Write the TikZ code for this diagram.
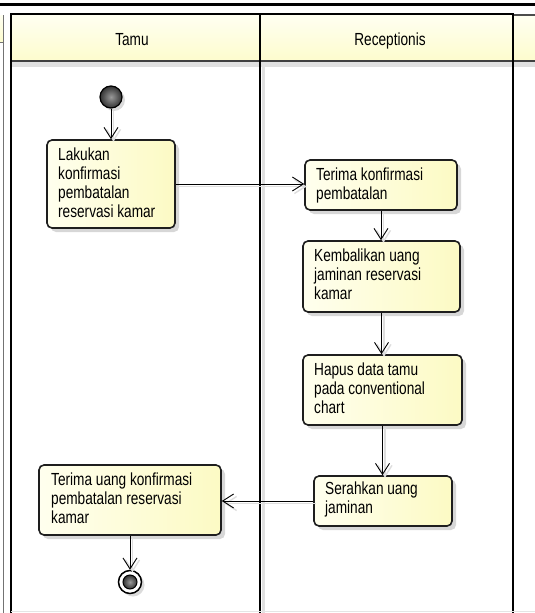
\documentclass[tikz,border=0pt]{standalone}
\usepackage{fontspec}
\setmainfont[FakeStretch=0.78]{Liberation Sans}
\usetikzlibrary{arrows.meta,shadows}
\definecolor{boxL}{RGB}{255,255,238}
\definecolor{boxR}{RGB}{252,250,196}
\definecolor{hdrT}{RGB}{255,255,242}
\definecolor{hdrB}{RGB}{253,252,205}
\definecolor{edge}{RGB}{30,30,30}
\tikzset{
  act/.style={draw=edge, line width=1.6pt, rounded corners=5pt,
    left color=boxL, right color=boxR, inner sep=0pt,
    drop shadow={shadow xshift=4pt, shadow yshift=-4pt, fill=black!22, opacity=.7}},
  txt/.style={anchor=north west, inner sep=0pt, align=left,
    font=\fontsize{17.5}{19}\selectfont, execute at begin node=\strut},
  hdr/.style={anchor=base, inner sep=0pt, font=\fontsize{17.5}{19}\selectfont},
  conn/.style={draw=black, line width=0.9pt,
    -{Straight Barb[length=11pt,width=14pt]},
    preaction={draw=black!13, line width=1.4pt,
      transform canvas={xshift=2.5pt,yshift=-2.5pt}}},
}
\begin{document}
\begin{tikzpicture}[x=1pt,y=-1pt]
\useasboundingbox (0,0) rectangle (535,613);
\fill[white] (0,0) rectangle (535,613);
% top rule
\draw[line width=3pt] (0,4) -- (535,4);
% header band
\shade[top color=hdrT, bottom color=hdrB] (11,14) rectangle (535,61);
\shade[top color=hdrT, bottom color=hdrB] (0,15) rectangle (3,42);
\fill[black!12] (11,62) rectangle (535,67);
\draw[black!75, line width=2pt] (11,61) -- (535,61);
\draw[black!70, line width=1.5pt] (513,15) -- (535,15);
% left edge
\draw[black!55, line width=1pt] (3,15) -- (3,613);
\draw[black!55, line width=1pt] (0,42) -- (3,42);
% lane divider shadow
\fill[black!12] (262,62) rectangle (265,613);
% lane outline
\draw[line width=2pt] (11,613) -- (11,14) -- (513,14) -- (513,613);
\draw[line width=2pt] (260,14) -- (260,613);
\draw[black!10, line width=1pt] (11,611) -- (535,611);
% headers
\node[hdr] (h1) at (132,45) {Tamu};
\node[hdr] (h2) at (390,45) {Receptionis};
% start
\node[circle, draw=black, line width=1.2pt, minimum size=22pt, inner sep=0pt,
  inner color=black!40, outer color=black!80,
  drop shadow={shadow xshift=3pt, shadow yshift=-3pt, fill=black!20, opacity=.7}] (start) at (111,97) {};
% activities
\node[act, minimum width=128pt, minimum height=88pt] (n1) at (111,184) {};
\node[txt] (t1) at (58,148) {Lakukan\\konfirmasi\\pembatalan\\reservasi kamar};
\node[act, minimum width=152pt, minimum height=50pt] (n2) at (381,185) {};
\node[txt] (t2) at (316,168) {Terima konfirmasi\\pembatalan};
\node[act, minimum width=157pt, minimum height=71pt] (n3) at (381.5,276.5) {};
\node[txt] (t3) at (314,249) {Kembalikan uang\\jaminan reservasi\\kamar};
\node[act, minimum width=159pt, minimum height=70pt] (n4) at (382.5,390) {};
\node[txt] (t4) at (314,363) {Hapus data tamu\\pada conventional\\chart};
\node[act, minimum width=138pt, minimum height=50pt] (n5) at (383,501) {};
\node[txt] (t5) at (325,482) {Serahkan uang\\jaminan};
\node[act, minimum width=182pt, minimum height=70pt] (n6) at (130,500) {};
\node[txt] (t6) at (51,473) {Terima uang konfirmasi\\pembatalan reservasi\\kamar};
% end
\node[circle, draw=black, line width=1.5pt, fill=white, minimum size=23pt, inner sep=0pt,
  drop shadow={shadow xshift=3pt, shadow yshift=-3pt, fill=black!20, opacity=.7}] (end) at (130,582) {};
\node[circle, draw=black, line width=1pt, inner color=black!40, outer color=black!80,
  minimum size=14pt, inner sep=0pt] (endin) at (130,582) {};
% connectors
\draw[conn] (start.south) -- (start.south |- n1.north);
\draw[conn] (n1.east) -- (n1.east -| n2.west);
\draw[conn] (n2.south) -- (n2.south |- n3.north);
\draw[conn] (n3.south) -- (n3.south |- n4.north);
\draw[conn] (n4.south) -- (n4.south |- n5.north);
\draw[conn] (n5.west) -- (n5.west -| n6.east);
\draw[conn] (n6.south) -- (end.north);
\end{tikzpicture}
\end{document}
